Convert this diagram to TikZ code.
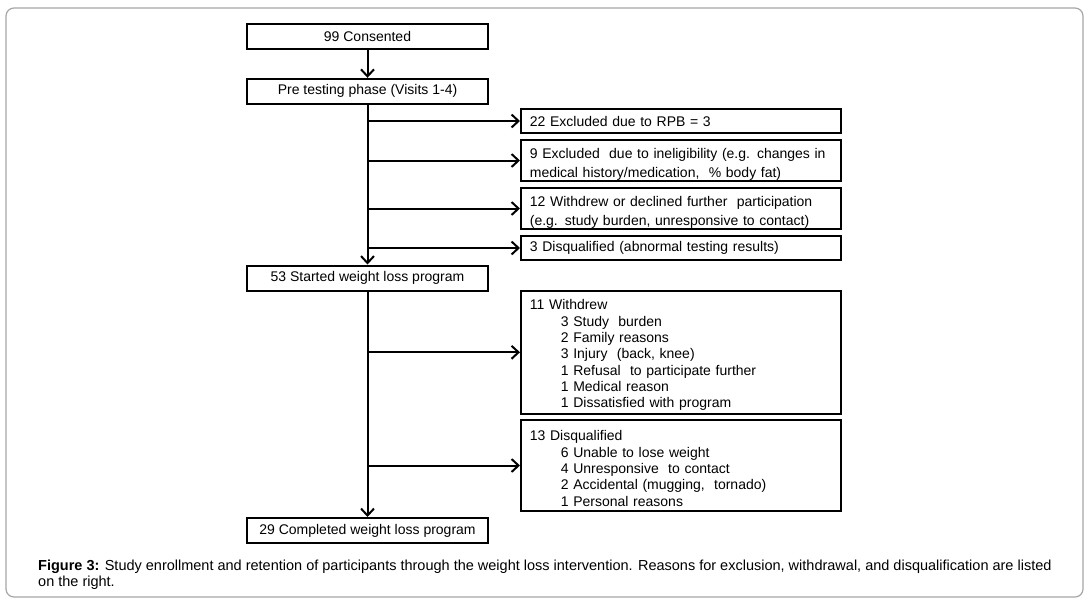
\documentclass[tikz,border=0pt]{standalone}
\usepackage{fontspec}
\setmainfont{Liberation Sans}
\usetikzlibrary{arrows.meta}
\begin{document}
\begin{tikzpicture}[x=1pt,y=-1pt,
  mbox/.style={draw, line width=2pt, minimum width=241pt, minimum height=25pt, inner sep=0pt, font=\fontsize{14}{16}\selectfont},
  rbox/.style={draw, line width=1.7pt, text width=302pt, inner xsep=9pt, inner ysep=0pt, align=left, anchor=west, font=\fontsize{14}{16.3}\selectfont},
  twoline/.style={font=\fontsize{14}{18.3}\selectfont},
  arr/.style={line width=2pt, -{Straight Barb[length=7pt,width=13pt]}},
  frame/.style={draw=black!35, line width=1.2pt, rounded corners=8pt}]
\useasboundingbox (0,0) rectangle (1089,606);
\draw[frame] (6,8) rectangle (1083,597);
% main column
\node[mbox] (c99) at (367.5,36) {99 Consented};
\node[mbox] (pre) at (367.5,91.3) {Pre testing phase (Visits 1-4)};
\node[mbox] (s53) at (367.5,278) {53 Started weight loss program};
\node[mbox] (c29) at (367.5,530.5) {29 Completed weight loss program};
% right boxes
\node[rbox, minimum height=24.6pt] (b22) at (520,121) {22 Excluded due to RPB = 3};
\node[rbox, twoline, minimum height=41pt] (b9) at (520,160.5) {\rule{0pt}{18pt}9 Excluded\ \ due to ineligibility (e.g. changes in\\medical history/medication,\ \ \% body fat)};
\node[rbox, twoline, minimum height=41pt] (b12) at (520,208.5) {\rule{0pt}{18pt}12 Withdrew or declined further\ \ participation\\(e.g. study burden, unresponsive to contact)};
\node[rbox, minimum height=24.6pt] (b3) at (520,248) {3 Disqualified (abnormal testing results)};
\node[rbox, minimum height=123pt] (bw) at (520,352.3) {\rule{0pt}{16pt}11 Withdrew\\
\hspace*{31pt}3 Study\ \ burden\\
\hspace*{31pt}2 Family reasons\\
\hspace*{31pt}3 Injury\ \ (back, knee)\\
\hspace*{31pt}1 Refusal\ \ to participate further\\
\hspace*{31pt}1 Medical reason\\
\hspace*{31pt}1 Dissatisfied with program};
\node[rbox, minimum height=91pt] (bd) at (520,465.5) {\rule{0pt}{16pt}13 Disqualified\\
\hspace*{31pt}6 Unable to lose weight\\
\hspace*{31pt}4 Unresponsive\ \ to contact\\
\hspace*{31pt}2 Accidental (mugging,\ \ tornado)\\
\hspace*{31pt}1 Personal reasons};
% connectors
\draw[arr] (c99) -- (pre);
\draw[arr] (pre) -- (s53);
\draw[arr] (s53) -- (c29);
\foreach \b in {b22,b9,b12,b3} \draw[arr] (pre.south |- \b.west) -- (\b.west);
\foreach \b in {bw,bd} \draw[arr] (s53.south |- \b.west) -- (\b.west);
% caption
\node[anchor=north west, align=left, inner sep=0pt, font=\fontsize{14.5}{16.5}\selectfont] (cap) at (38,559.5)
 {\textbf{Figure 3:} Study enrollment and retention of participants through the weight loss intervention. Reasons for exclusion, withdrawal, and disqualification are listed\\on the right.};
\end{tikzpicture}
\end{document}
